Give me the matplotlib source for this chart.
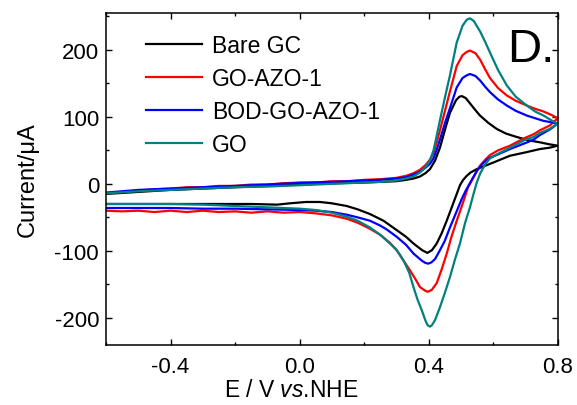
import numpy as np
import matplotlib
matplotlib.use("Agg")
import matplotlib.pyplot as plt
from matplotlib.ticker import MultipleLocator

plt.rcParams['font.family'] = ['Liberation Sans', 'DejaVu Sans']
plt.rcParams['mathtext.fontset'] = 'custom'
plt.rcParams['mathtext.rm'] = 'Liberation Sans'
plt.rcParams['mathtext.it'] = 'Liberation Sans:italic'

labels = ["Bare GC", "GO-AZO-1", "BOD-GO-AZO-1", "GO"]
colors = ["#000000", "#ff0000", "#0000ff", "#008080"]

# potential (V vs NHE) and current (uA), forward scan then reverse scan
bare_E = [-0.6, -0.5, -0.4, -0.3, -0.2, -0.1, 0.0, 0.1, 0.2, 0.25, 0.3, 0.33, 0.353, 0.373, 0.39, 0.404,
          0.42, 0.435, 0.45, 0.466, 0.485, 0.495, 0.503, 0.515, 0.53, 0.545, 0.559, 0.585, 0.611, 0.64,
          0.673, 0.71, 0.745, 0.775, 0.8,
          0.775, 0.745, 0.7, 0.652, 0.601, 0.575, 0.549, 0.53, 0.518, 0.507, 0.497, 0.487, 0.47, 0.456,
          0.44, 0.425, 0.41, 0.396, 0.38, 0.353, 0.33, 0.301, 0.26, 0.218, 0.18, 0.146, 0.1, 0.063,
          0.02, -0.03, -0.07, -0.15, -0.3, -0.45, -0.6]
bare_I = [-15, -12, -9, -7, -5, -3, -1, 1, 2, 3, 4, 6, 8, 11, 16, 22,
          35, 54, 80, 106, 125, 130, 131, 128, 119, 110, 102, 91, 82, 75,
          70, 65, 62, 59, 57,
          54, 52, 47, 42, 32, 27, 22, 17, 12, 6, -2, -15, -37, -55,
          -74, -89, -99, -103, -99, -89, -79, -69, -55, -45, -38, -33, -29, -27,
          -27, -29, -31, -30, -30, -30, -30]

goazo_E = [-0.6, -0.55, -0.5, -0.45, -0.4, -0.35, -0.3, -0.25, -0.2, -0.15, -0.1, -0.05, 0.0, 0.05,
           0.1, 0.15, 0.2, 0.25, 0.3, 0.33, 0.353, 0.373, 0.39, 0.404, 0.415, 0.425, 0.435, 0.45,
           0.466, 0.487, 0.505, 0.518, 0.528, 0.545, 0.56, 0.575, 0.59, 0.615, 0.642, 0.67, 0.704,
           0.73, 0.756, 0.78, 0.8,
           0.775, 0.745, 0.725, 0.7, 0.652, 0.615, 0.59, 0.575, 0.559, 0.545, 0.535, 0.522, 0.505,
           0.487, 0.47, 0.456, 0.44, 0.425, 0.41, 0.402, 0.396, 0.388, 0.373, 0.36, 0.342, 0.32,
           0.301, 0.28, 0.25, 0.218, 0.18, 0.146, 0.1, 0.05, 0.0, -0.05, -0.1, -0.15, -0.2, -0.25,
           -0.3, -0.35, -0.4, -0.45, -0.5, -0.55, -0.6]
goazo_I = [-14, -12, -10, -8, -7, -5, -5, -3, -3, -1, -1, 1, 2, 2,
           4, 4, 6, 7, 9, 12, 16, 21, 28, 36, 46, 62, 80, 108,
           138, 176, 192, 197, 199, 195, 185, 171, 158, 143, 132, 124, 117,
           112, 108, 103, 98,
           87, 80, 74, 69, 57, 50, 43, 36, 27, 15, 6, -5, -30,
           -55, -80, -104, -128, -148, -158, -160, -161, -159, -154, -143, -129, -113,
           -99, -88, -76, -67, -58, -52, -47, -44, -42, -43, -41, -43, -41, -42,
           -40, -42, -40, -42, -40, -41, -40]

bod_E = [-0.6, -0.5, -0.4, -0.3, -0.2, -0.1, 0.0, 0.1, 0.2, 0.25, 0.3, 0.33, 0.353, 0.373, 0.39,
         0.404, 0.415, 0.425, 0.435, 0.45, 0.466, 0.487, 0.505, 0.518, 0.528, 0.545, 0.56, 0.575,
         0.59, 0.615, 0.642, 0.67, 0.704, 0.73, 0.756, 0.78, 0.8,
         0.775, 0.745, 0.725, 0.7, 0.652, 0.615, 0.59, 0.569, 0.55, 0.53, 0.515, 0.503, 0.485,
         0.466, 0.45, 0.435, 0.42, 0.409, 0.399, 0.39, 0.38, 0.37, 0.353, 0.33, 0.301, 0.27, 0.249,
         0.218, 0.18, 0.146, 0.1, 0.05, 0.0, -0.1, -0.2, -0.3, -0.4, -0.5, -0.6]
bod_I = [-13, -9, -7, -5, -3, -1, 1.5, 3, 5, 6, 8, 10, 14, 18, 24,
         30, 38, 51, 66, 90, 113, 144, 158, 162, 164, 161, 154, 145,
         137, 126, 117, 109, 102, 98, 94, 92, 90,
         81, 73, 66, 61, 52, 44, 39, 31, 20, 3, -10, -22, -43,
         -65, -85, -99, -112, -117, -119, -118, -115, -111, -104, -91, -79, -68, -62,
         -55, -50, -46, -42, -40, -39, -38, -37, -37, -36, -36, -36]

go_E = [-0.6, -0.5, -0.4, -0.3, -0.2, -0.1, 0.0, 0.1, 0.2, 0.25, 0.3, 0.33, 0.353, 0.373, 0.39,
        0.404, 0.415, 0.425, 0.435, 0.45, 0.466, 0.487, 0.505, 0.518, 0.528, 0.54, 0.55, 0.56,
        0.575, 0.59, 0.615, 0.642, 0.67, 0.704, 0.73, 0.756, 0.78, 0.8,
        0.775, 0.745, 0.725, 0.7, 0.652, 0.615, 0.59, 0.575, 0.56, 0.549, 0.539, 0.528, 0.513,
        0.497, 0.482, 0.466, 0.45, 0.435, 0.42, 0.41, 0.404, 0.397, 0.39, 0.379, 0.365, 0.353,
        0.34, 0.322, 0.3, 0.28, 0.25, 0.218, 0.18, 0.146, 0.1, 0.05, 0.0, -0.1, -0.2, -0.3, -0.4,
        -0.5, -0.6]
go_I = [-14, -11, -9, -7, -5, -4, -2, 0, 2, 3, 5, 8, 11, 17, 25,
        35, 50, 72, 95, 128, 162, 211, 236, 245, 247, 243, 235, 227,
        212, 196, 170, 147, 130, 117, 108, 102, 95, 90,
        82, 76, 70, 66, 54, 45, 38, 29, 16, 2, -15, -35, -58,
        -89, -112, -139, -163, -184, -203, -211, -213, -211, -204, -189, -172, -154,
        -133, -114, -98, -89, -76, -65, -55, -49, -43, -39, -37, -35, -33, -31, -30,
        -30, -30]

series = [(bare_E, bare_I), (goazo_E, goazo_I), (bod_E, bod_I), (go_E, go_I)]

fig = plt.figure(figsize=(5.77, 4.06), dpi=100)
ax = fig.add_axes([0.1837, 0.1485, 0.7829, 0.817])

for (E, I), lab, c in zip(series, labels, colors):
    ax.plot(E, I, color=c, lw=1.6, label=lab, solid_joinstyle='round')

ax.set_xlim(-0.6, 0.8)
ax.set_ylim(-240, 255)
ax.xaxis.set_minor_locator(MultipleLocator(0.2))
ax.yaxis.set_minor_locator(MultipleLocator(50))
ax.set_xticks([-0.4, 0.0, 0.4, 0.8])
ax.set_xticklabels(["-0.4", "0.0", "0.4", "0.8"])
ax.set_yticks([-200, -100, 0, 100, 200])
ax.set_yticklabels(["-200", "-100", "0", "100", "200"])

ax.tick_params(which='both', direction='in', top=True, right=True, width=1.0)
ax.tick_params(which='major', length=4.5, labelsize=16)
ax.tick_params(axis='x', which='major', pad=8)
ax.tick_params(axis='y', which='major', pad=5)
ax.tick_params(which='minor', length=2.5)
for sp in ax.spines.values():
    sp.set_linewidth(1.1)

ax.set_xlabel(r"E / V $\mathit{vs}$.NHE", fontsize=16.5, labelpad=2)
ax.xaxis.set_label_coords(0.41, -0.10)
ax.set_ylabel("Current/\u03bcA", fontsize=17, labelpad=11)

ax.text(0.887, 0.855, "D.", transform=ax.transAxes, fontsize=34, va='baseline', ha='left')

ax.legend(loc='upper left', bbox_to_anchor=(0.088, 0.937), frameon=False, fontsize=16.5,
          handlelength=2.45, handletextpad=0.45, labelspacing=0.44, borderpad=0, borderaxespad=0)

fig.savefig("out.png", dpi=100)
